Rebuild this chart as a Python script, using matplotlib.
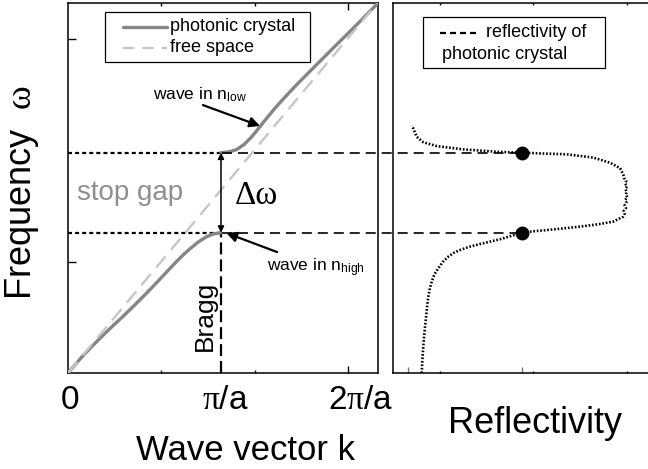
import matplotlib
matplotlib.use("Agg")
import matplotlib.pyplot as plt
from matplotlib.patches import Rectangle

plt.rcParams.update({
    "font.family": ["Liberation Sans", "DejaVu Sans"],
    "mathtext.fontset": "custom",
    "mathtext.rm": "Liberation Serif",
    "mathtext.it": "Liberation Serif:italic",
    "lines.scale_dashes": False,
})

# ---- dispersion relation (k in units of pi/a, omega in matching units) ----
k_lower = [0.0, 0.05, 0.10, 0.15, 0.20, 0.25, 0.30, 0.35, 0.40, 0.45, 0.50,
           0.55, 0.60, 0.65, 0.70, 0.75, 0.80, 0.85, 0.90, 0.95, 1.0]
w_lower = [0.0, 0.049, 0.096, 0.140, 0.182, 0.223, 0.263, 0.302, 0.342, 0.383, 0.425,
           0.468, 0.512, 0.557, 0.601, 0.643, 0.681, 0.715, 0.742, 0.760, 0.767]

k_upper = [1.0, 1.05, 1.10, 1.15, 1.20, 1.25, 1.30, 1.35, 1.40, 1.45, 1.50,
           1.55, 1.60, 1.70, 1.80, 1.90, 2.03]
w_upper = [1.204, 1.208, 1.220, 1.248, 1.290, 1.341, 1.394, 1.444, 1.491, 1.536, 1.580,
           1.622, 1.664, 1.748, 1.831, 1.914, 2.025]

k_free = [0.0, 2.03]
w_free = [0.0, 2.03]

k_bragg = 1.0
gap_low = 0.767
gap_high = 1.204

# ---- measured reflectivity spectrum ----
refl = [0.060, 0.063, 0.067, 0.072, 0.078, 0.083, 0.089, 0.096, 0.104, 0.116, 0.133,
        0.152, 0.177, 0.200, 0.228, 0.270, 0.316, 0.360, 0.404, 0.450, 0.5, 0.555,
        0.608, 0.680, 0.754, 0.830, 0.900, 0.944, 0.950, 0.946, 0.956, 0.950, 0.958,
        0.952, 0.962, 0.955, 0.960, 0.953, 0.961, 0.952, 0.957, 0.948, 0.945, 0.938,
        0.930, 0.886, 0.813, 0.696, 0.579, 0.5, 0.389, 0.243, 0.126, 0.067, 0.038,
        0.023, 0.016]
w_refl = [0.0, 0.07, 0.144, 0.22, 0.290, 0.355, 0.417, 0.462, 0.499, 0.540, 0.572,
          0.606, 0.636, 0.656, 0.672, 0.690, 0.705, 0.718, 0.731, 0.748, 0.767, 0.775,
          0.781, 0.790, 0.800, 0.812, 0.827, 0.854, 0.870, 0.885, 0.900, 0.915, 0.930,
          0.945, 0.960, 0.975, 0.990, 1.005, 1.020, 1.035, 1.050, 1.065, 1.080, 1.100,
          1.119, 1.149, 1.177, 1.195, 1.200, 1.204, 1.209, 1.222, 1.240, 1.261, 1.291,
          1.337, 1.351]
refl_half = 0.5

k_tick_labels = ["0", r"$\mathrm{\pi}$/a", r"2$\mathrm{\pi}$/a"]
k_tick_label_pos = [0.013, 1.03, 1.915]

W, H = 648, 469
fig = plt.figure(figsize=(W / 100, H / 100), dpi=100)
ax = fig.add_axes([68 / W, 96 / H, 310 / W, 370 / H])
axr = fig.add_axes([393 / W, 96 / H, 270 / W, 370 / H])
axr.patch.set_visible(False)

pc_grey = "#858585"
fs_grey = "#c6c6c6"
pc_style = dict(color=pc_grey, lw=2.4, solid_capstyle="round", solid_joinstyle="round")
fs_style = dict(color=fs_grey, lw=1.7, linestyle=(0, (10.5, 6.0)))

# ---------------- left panel: band diagram ----------------
ax.plot(k_lower, w_lower, zorder=3, **pc_style)
ax.plot(k_upper, w_upper, zorder=3, **pc_style)
ax.plot(k_free, w_free, zorder=4, **fs_style)

ax.plot([0, k_bragg], [gap_low, gap_low], color="black", lw=1.6, linestyle=(0, (2.9, 2.2)), zorder=2)
ax.plot([0, k_bragg], [gap_high, gap_high], color="black", lw=1.6, linestyle=(0, (2.9, 2.2)), zorder=2)
ax.plot([k_bragg, k_bragg], [0, gap_low], color="black", lw=1.6, linestyle=(0, (8.6, 3.6)), zorder=2)

ax.annotate("", xy=(k_bragg, gap_high), xytext=(k_bragg, gap_low),
            arrowprops=dict(arrowstyle="<|-|>", lw=1.1, color="black",
                            mutation_scale=9, shrinkA=0, shrinkB=0), zorder=5)
ax.annotate("", xy=(1.255, 1.350), xytext=(0.882, 1.464),
            arrowprops=dict(arrowstyle="-|>", lw=1.6, color="black",
                            mutation_scale=15, shrinkA=0, shrinkB=0))
ax.annotate("", xy=(1.035, 0.765), xytext=(1.366, 0.661),
            arrowprops=dict(arrowstyle="-|>", lw=1.6, color="black",
                            mutation_scale=15, shrinkA=0, shrinkB=0))

ax.text(0.556, 1.492, r"wave in n$_{\mathregular{low}}$", fontsize=12.5, ha="left", va="baseline")
ax.text(1.30, 0.552, r"wave in n$_{\mathregular{high}}$", fontsize=12.5, ha="left", va="baseline")
ax.text(0.405, 0.984, "stop gap", fontsize=20, color="#8f8f8f", ha="center", va="center")
ax.text(1.09, 0.967, "\u0394\u03c9", fontsize=24, family="Liberation Serif", ha="left", va="center")
ax.text(0.895, 0.311, "Bragg", fontsize=19, rotation=90, ha="center", va="center")

ax.set_xlim(0, 310 / 153)
ax.set_ylim(0, 370 / 183)
ax.set_xticks([1.83])
ax.set_xticks([0.61, 1.22], minor=True)
ax.set_yticks([0.607, 1.825])
ax.set_xticklabels([])
ax.set_yticklabels([])
ax.tick_params(which="major", direction="in", length=5, width=1.0, top=True, right=False)
ax.tick_params(which="minor", direction="in", length=2.5, width=1.0, top=True)
ax.tick_params(axis="y", which="major", length=6)
for s in ax.spines.values():
    s.set_linewidth(1.1)

for lbl, pos in zip(k_tick_labels, k_tick_label_pos):
    ax.text(pos, -0.148, lbl, fontsize=24, ha="center", va="center", clip_on=False)

# key for the two dispersion curves
ax.add_patch(Rectangle((0.242, 1.699), 1.582 - 0.242, 1.973 - 1.699, facecolor="white",
                       edgecolor="black", lw=0.9, zorder=6))
ax.plot([0.359, 0.647], [1.891, 1.891], zorder=7, **pc_style)
ax.plot([0.359, 0.647], [1.776, 1.776], zorder=7, color=fs_grey, lw=1.7,
        linestyle=(0, (8.0, 6.0)))
ax.text(0.667, 1.891, "photonic crystal", fontsize=13, ha="left", va="center", zorder=7)
ax.text(0.667, 1.776, "free space", fontsize=13, ha="left", va="center", zorder=7)

# ---------------- right panel: reflectivity ----------------
axr.plot(refl, w_refl, color="black", lw=1.9, linestyle=(0, (1.2, 1.3)), zorder=3)
axr.plot([refl_half, refl_half], [gap_low, gap_high], "o", color="black", ms=9, zorder=4)
for g in (gap_low, gap_high):
    axr.plot([(222 - 408) / 228, refl_half], [g, g], color="black", lw=1.2,
             linestyle=(0, (7.2, 4.3)), clip_on=False, zorder=2)

axr.set_xlim((393 - 408) / 228, (393 - 408 + 270) / 228)
axr.set_ylim(0, 370 / 183)
axr.set_xticks([0.0, 0.5])
axr.set_xticks([0.14, 0.548, 0.96], minor=True)
axr.set_yticks([])
axr.set_xticklabels([])
axr.tick_params(which="major", direction="in", length=4.5, width=1.0, color="#777777", top=False)
axr.tick_params(which="minor", direction="in", length=1.5, width=1.0, top=True)
axr.spines["right"].set_visible(False)
for s in axr.spines.values():
    s.set_linewidth(1.1)

# key for the reflectivity trace
axr.add_patch(Rectangle((0.0658, 1.667), 0.864 - 0.0658, 1.945 - 1.667, fill=False,
                        edgecolor="black", lw=0.9, zorder=5))
axr.plot([0.140, 0.303], [1.858, 1.858], color="black", lw=1.6,
         linestyle=(0, (4.3, 2.9)), zorder=5)
axr.text(0.342, 1.858, "reflectivity of", fontsize=13, ha="left", va="center")
axr.text(0.149, 1.738, "photonic crystal", fontsize=13, ha="left", va="center")

# ---------------- axis titles ----------------
fig.text(22 / W, 1 - 192 / H, r"Frequency  $\mathrm{\omega}$", fontsize=26, rotation=90,
         ha="center", va="center")
fig.text(246 / W, 1 - 460 / H, "Wave vector k", fontsize=25, ha="center", va="baseline")
fig.text(535 / W, 1 - 433 / H, "Reflectivity", fontsize=26, ha="center", va="baseline")

fig.savefig("out.png", dpi=100)
